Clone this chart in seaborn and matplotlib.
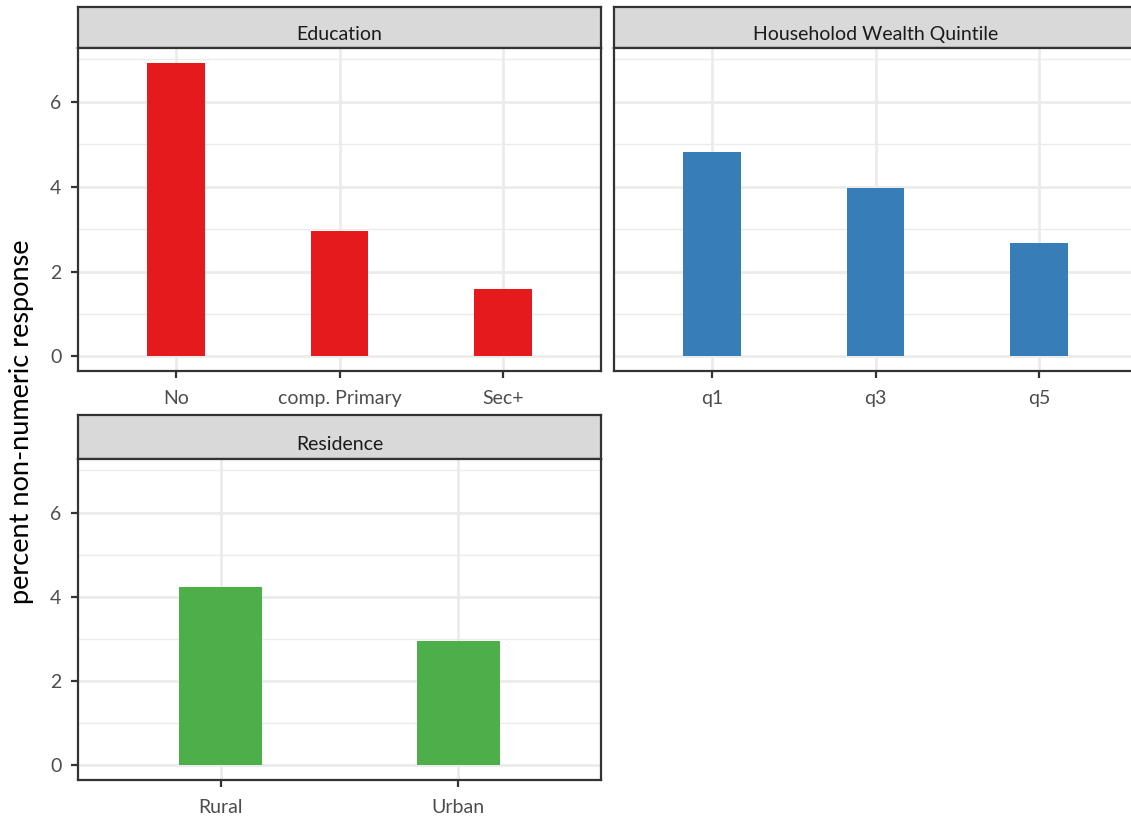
import matplotlib
matplotlib.use("Agg")
import matplotlib.pyplot as plt
from matplotlib.ticker import MultipleLocator
import pandas as pd
import seaborn as sns

# values
edu_levels = ["No", "comp. Primary", "Sec+"]
edu_pct = [6.92, 2.96, 1.59]
wealth_levels = ["q1", "q3", "q5"]
wealth_pct = [4.81, 3.98, 2.68]
res_levels = ["Rural", "Urban"]
res_pct = [4.24, 2.96]

panel_titles = ["Education", "Householod Wealth Quintile", "Residence"]
bar_colors = ["#E41A1C", "#377EB8", "#4DAF4A"]

sns.set_theme(style="white")
plt.rcParams["font.family"] = ["Lato", "DejaVu Sans"]

W, H = 1131, 822
fig = plt.figure(figsize=(W / 100, H / 100), dpi=100)


def box(l, t, r, b):
    # pixel box -> figure fraction
    return [l / W, 1 - b / H, (r - l) / W, (b - t) / H]


def facet(l, r, top, strip_b, bottom, cats, vals, color, title, show_y):
    st = fig.add_axes(box(l, top, r, strip_b))
    st.set_facecolor("#D9D9D9")
    st.set_xticks([]); st.set_yticks([])
    for s in st.spines.values():
        s.set_color("#333333"); s.set_linewidth(1.6)
    st.text(0.5, 0.34, title, ha="center", va="center", fontsize=14,
            color="#1A1A1A", transform=st.transAxes)

    ax = fig.add_axes(box(l, strip_b, r, bottom))
    df = pd.DataFrame({"cat": cats, "pct": vals})
    sns.barplot(data=df, x="cat", y="pct", color=color, width=0.35,
                saturation=1, ax=ax, zorder=3)
    for p in ax.patches:
        p.set_edgecolor("none")
    n = len(cats)
    ax.set_xlim(-0.6, n - 0.4)
    ax.set_ylim(-0.346, 7.27)
    ax.yaxis.set_major_locator(MultipleLocator(2))
    ax.yaxis.set_minor_locator(MultipleLocator(1))
    ax.grid(which="major", color="#EBEBEB", linewidth=2.0, zorder=0)
    ax.grid(which="minor", axis="y", color="#EBEBEB", linewidth=1.0, zorder=0)
    ax.set_axisbelow(True)
    ax.set_xlabel(""); ax.set_ylabel("")
    for s in ax.spines.values():
        s.set_color("#333333"); s.set_linewidth(1.6)
    ax.tick_params(axis="x", which="major", bottom=True, length=5, width=1.6,
                   color="#333333", labelsize=14, labelcolor="#4D4D4D", pad=9)
    ax.tick_params(axis="y", which="major", left=show_y, labelleft=show_y, length=5,
                   width=1.6, color="#333333", labelsize=14, labelcolor="#4D4D4D", pad=7)
    ax.tick_params(axis="y", which="minor", left=False)
    return ax


facet(78, 601, 7, 48, 371, edu_levels, edu_pct, bar_colors[0], panel_titles[0], True)
facet(614, 1137, 7, 48, 371, wealth_levels, wealth_pct, bar_colors[1], panel_titles[1], False)
facet(78, 601, 415, 459, 780, res_levels, res_pct, bar_colors[2], panel_titles[2], True)

fig.text(22 / W, 1 - 422 / H, "percent non-numeric response", rotation=90,
         ha="center", va="center", fontsize=19.5, color="black")

fig.savefig("out.png", dpi=100)
